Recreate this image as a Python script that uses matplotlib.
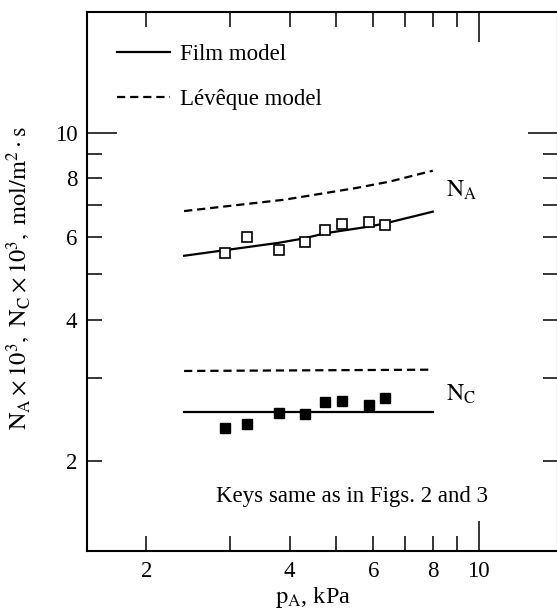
import matplotlib
matplotlib.use('Agg')
import matplotlib.pyplot as plt
from matplotlib import rcParams
from matplotlib.ticker import FixedLocator, FixedFormatter

rcParams['font.family'] = ['Liberation Serif', 'DejaVu Serif']
rcParams['mathtext.fontset'] = 'stix'

# experimental points
p_exp = [2.93, 3.25, 3.80, 4.30, 4.75, 5.16, 5.87, 6.34]
NA_exp = [5.54, 6.01, 5.63, 5.86, 6.21, 6.39, 6.45, 6.35]
NC_exp = [2.35, 2.40, 2.53, 2.52, 2.67, 2.69, 2.63, 2.72]

# model curves
p_film = [2.4, 3.8, 4.3, 4.76, 5.87, 6.35, 8.0]
NA_film = [5.47, 5.83, 5.96, 6.11, 6.31, 6.41, 6.79]
p_lev = [2.4, 3.9, 5.5, 6.5, 8.0]
NA_lev = [6.81, 7.20, 7.62, 7.87, 8.30]
p_flat = [2.4, 8.0]
NC_film = [2.54, 2.54]
NC_lev = [3.11, 3.13]

fig = plt.figure(figsize = [5.57, 6.14], dpi = 100)
ax = fig.add_axes([87/557, 63/614, 471/557, 538.7/614])
ax.set_xscale('log')
ax.set_yscale('log')
ax.set_xlim(1.5, 14.67)
ax.set_ylim(1.287, 18.04)

dash = (0, (3.7, 2.2))
l1, = ax.plot(p_film, NA_film, color = 'black', lw = 1.6, label = 'Film model')
l2, = ax.plot(p_lev, NA_lev, color = 'black', lw = 1.6, ls = dash, label = 'Lévêque model')
ax.plot(p_flat, NC_film, color = 'black', lw = 1.6)
ax.plot(p_flat, NC_lev, color = 'black', lw = 1.6, ls = dash)

ax.plot(p_exp, NA_exp, ls = 'none', marker = 's', ms = 6.5, mfc = 'white', mec = 'black', mew = 1.2)
ax.plot(p_exp, NC_exp, ls = 'none', marker = 's', ms = 6.5, mfc = 'black', mec = 'black')

ax.text(8.51, 7.30, r'$\mathrm{N_A}$', fontsize = 17, va = 'baseline')
ax.text(8.51, 2.69, r'$\mathrm{N_C}$', fontsize = 17, va = 'baseline')
ax.text(5.42, 1.638, 'Keys same as in Figs. 2 and 3', fontsize = 16.5, ha = 'center', va = 'baseline')

ax.legend(handles = [l1, l2], loc = 'center left', bbox_to_anchor = (0.0637, 0.880),
          frameon = False, fontsize = 16.5, borderpad = 0, borderaxespad = 0,
          handlelength = 2.3, handletextpad = 0.45, labelspacing = 1.05)

for axis in [ax.xaxis, ax.yaxis]:
    axis.set_major_locator(FixedLocator([10]))
    axis.set_minor_locator(FixedLocator([2, 3, 4, 5, 6, 7, 8, 9]))
    axis.set_major_formatter(FixedFormatter(['10']))
    axis.set_minor_formatter(FixedFormatter(['2', '', '4', '', '6', '', '8', '']))

ax.tick_params(which = 'both', direction = 'in', top = True, right = True, width = 1.1, labelsize = 16.5, pad = 7)
ax.tick_params(which = 'major', length = 21.5)
ax.tick_params(which = 'minor', length = 10.5)
for s in ax.spines.values():
    s.set_linewidth(1.5)

fig.text(313/557, 1 - 598/614, r'$\mathrm{p_A}$, kPa', fontsize = 17.5, ha = 'center', va = 'center')
fig.text(19/557, 1 - 278/614, r'$\mathrm{N_A \times 10^3,\ N_C \times 10^3,\ mol/m^2 \cdot s}$',
         fontsize = 17.5, rotation = 90, ha = 'center', va = 'center')

fig.savefig('out.png', dpi = 100)
